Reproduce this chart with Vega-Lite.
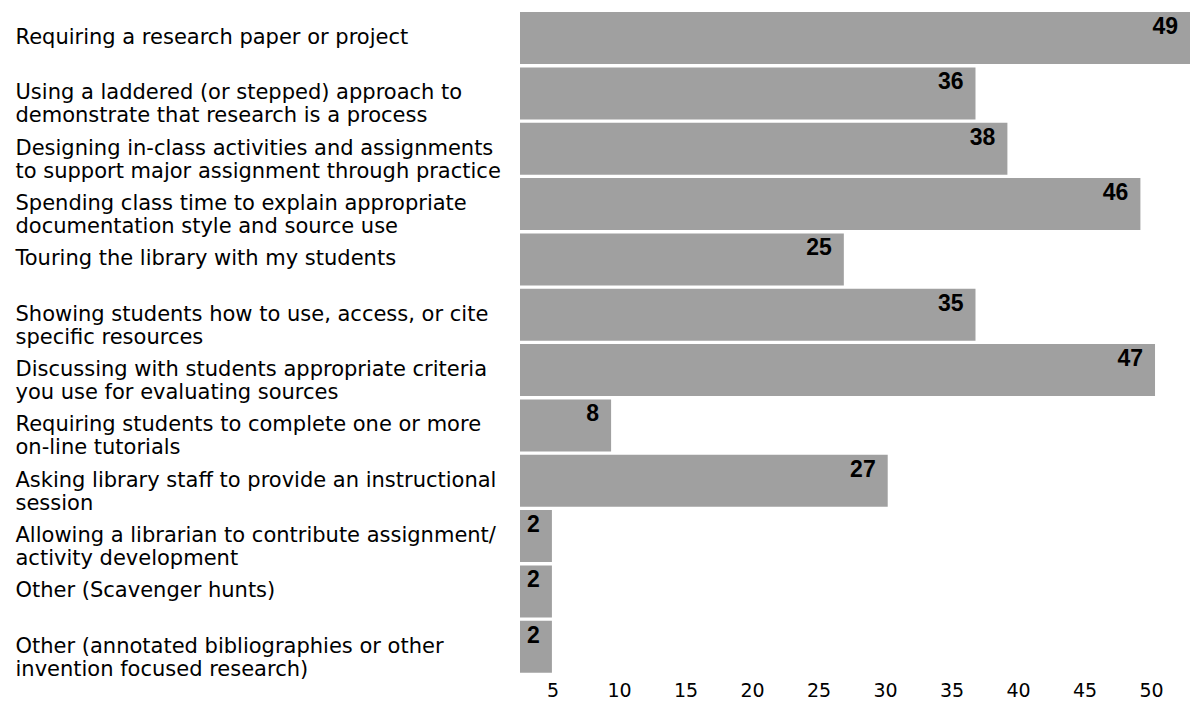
{
  "$schema": "https://vega.github.io/schema/vega-lite/v6.json",
  "autosize": "none",
  "width": 670,
  "height": 664,
  "padding": {"left": 520, "top": 10.4, "right": 0, "bottom": 26.6},
  "background": "white",
  "config": {"view": {"stroke": null}},
  "data": {
    "values": [
      {"practice": "Requiring a research paper or project|", "count": 49, "length": 52.93},
      {"practice": "Using a laddered (or stepped) approach to|demonstrate that research is a process", "count": 36, "length": 36.8},
      {"practice": "Designing in-class activities and assignments|to support major assignment through practice", "count": 38, "length": 39.2},
      {"practice": "Spending class time to explain appropriate|documentation style and source use", "count": 46, "length": 49.2},
      {"practice": "Touring the library with my students|", "count": 25, "length": 26.9},
      {"practice": "Showing students how to use, access, or cite|specific resources", "count": 35, "length": 36.8},
      {"practice": "Discussing with students appropriate criteria|you use for evaluating sources", "count": 47, "length": 50.3},
      {"practice": "Requiring students to complete one or more|on-line tutorials", "count": 8, "length": 9.4},
      {"practice": "Asking library staff to provide an instructional|session", "count": 27, "length": 30.2},
      {"practice": "Allowing a librarian to contribute assignment/|activity development", "count": 2, "length": 4.95},
      {"practice": "Other (Scavenger hunts)|", "count": 2, "length": 4.95},
      {"practice": "Other (annotated bibliographies or other|invention focused research)", "count": 2, "length": 4.95}
    ]
  },
  "encoding": {
    "y": {
      "field": "practice",
      "type": "nominal",
      "sort": null,
      "scale": {"paddingInner": 0.06, "paddingOuter": 0.03},
      "axis": {
        "title": null,
        "domain": false,
        "ticks": false,
        "tickSize": 0,
        "labelPadding": 505,
        "labelAlign": "left",
        "labelBaseline": "middle",
        "labelFont": "DejaVu Sans",
        "labelFontSize": 21,
        "labelLineHeight": 23,
        "labelColor": "#000000",
        "labelLimit": 0,
        "labelOverlap": false,
        "labelBound": false,
        "labelExpr": "split(datum.value, '|')"
      }
    }
  },
  "layer": [
    {
      "mark": {"type": "bar", "color": "#a0a0a0", "clip": true},
      "encoding": {
        "x": {
          "field": "length",
          "type": "quantitative",
          "scale": {"domain": [2.55, 52.93], "zero": false, "nice": false},
          "axis": {
            "title": null,
            "values": [5, 10, 15, 20, 25, 30, 35, 40, 45, 50],
            "domain": false,
            "ticks": false,
            "tickSize": 0,
            "grid": false,
            "labelPadding": 7,
            "labelFont": "DejaVu Sans",
            "labelFontSize": 19,
            "labelColor": "#000000",
            "labelFlush": false,
            "labelOverlap": false,
            "labelBound": false
          }
        }
      }
    },
    {
      "mark": {"type": "text", "align": "right", "baseline": "alphabetic", "dx": -12, "dy": -4, "font": "Liberation Sans", "fontSize": 23, "fontWeight": "bold", "color": "#000000"},
      "encoding": {
        "x": {"field": "length", "type": "quantitative"},
        "text": {"field": "count", "type": "quantitative"}
      }
    }
  ]
}
